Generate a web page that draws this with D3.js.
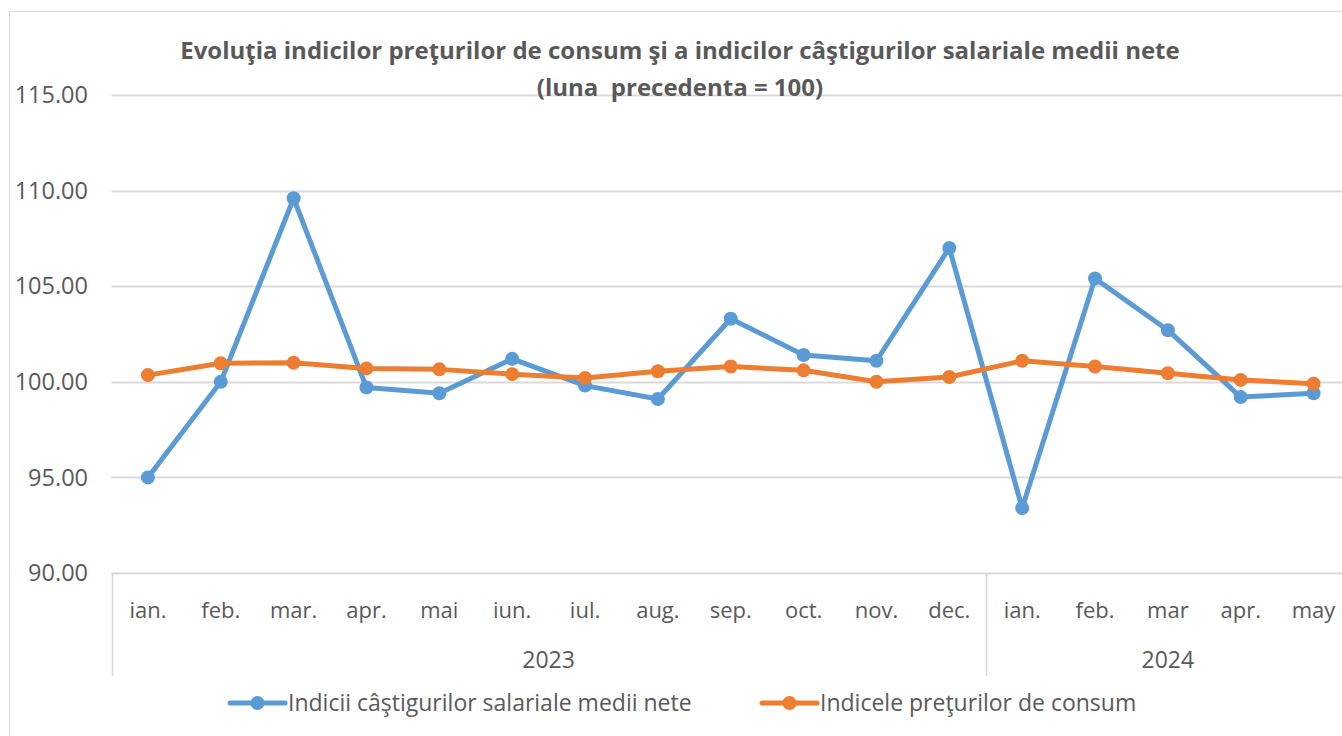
<!DOCTYPE html>
<html>
<head>
<meta charset="utf-8">
<script src="https://cdn.jsdelivr.net/npm/d3@7"></script>
<style>
  body { margin: 0; background: #fff; }
  svg text { font-family: "Open Sans", Lato, sans-serif; fill: #595959; }
</style>
</head>
<body>
<svg id="chart" width="1342" height="736"></svg>
<script>
// months and years along the x axis
var months = ['ian.', 'feb.', 'mar.', 'apr.', 'mai', 'iun.', 'iul.', 'aug.', 'sep.', 'oct.', 'nov.', 'dec.',
              'ian.', 'feb.', 'mar', 'apr.', 'may'];
var years = [{label: '2023', count: 12}, {label: '2024', count: 5}];

// series values (previous month = 100)
var salaries = [95.0, 100.0, 109.6, 99.7, 99.4, 101.2, 99.8, 99.1, 103.3, 101.4, 101.1, 107.0,
                93.4, 105.4, 102.7, 99.2, 99.4];
var prices = [100.35, 100.97, 101.0, 100.7, 100.65, 100.4, 100.2, 100.55, 100.8, 100.6, 100.0, 100.25,
              101.1, 100.8, 100.45, 100.1, 99.9];

var yTicks = [90, 95, 100, 105, 110, 115];

var seriesNames = ['Indicii câştigurilor salariale medii nete', 'Indicele preţurilor de consum'];
var colors = ['#5b9bd5', '#ed7d31'];

var svg = d3.select('#chart');

// chart frame
svg.append('rect')
    .attr('x', 9.5).attr('y', 11.5)
    .attr('width', 1400).attr('height', 800)
    .attr('fill', 'none')
    .attr('stroke', '#d9d9d9');

var padding = {l: 111.5, t: 95, r: 1350, b: 573};

var xScale = d3.scaleBand()
    .domain(d3.range(months.length))
    .range([padding.l, padding.r]);

var yScale = d3.scaleLinear()
    .domain([90, 115])
    .range([padding.b, padding.t]);

// gridlines
svg.append('g')
    .selectAll('line')
    .data(yTicks)
    .enter()
    .append('line')
    .attr('x1', padding.l)
    .attr('x2', padding.r)
    .attr('y1', function(d) { return Math.round(yScale(d)) + 0.5; })
    .attr('y2', function(d) { return Math.round(yScale(d)) + 0.5; })
    .attr('stroke', '#d9d9d9')
    .attr('stroke-width', 2);

// y labels
svg.append('g')
    .selectAll('text')
    .data(yTicks)
    .enter()
    .append('text')
    .attr('x', 88)
    .attr('y', function(d) { return yScale(d); })
    .attr('dy', '0.35em')
    .attr('text-anchor', 'end')
    .style('font-size', '23.5px')
    .text(function(d) { return d3.format('.2f')(d); });

// month labels
svg.append('g')
    .selectAll('text')
    .data(months)
    .enter()
    .append('text')
    .attr('x', function(d, i) { return xScale(i) + xScale.bandwidth() / 2; })
    .attr('y', 618)
    .attr('text-anchor', 'middle')
    .style('font-size', '22px')
    .text(function(d) { return d; });

// year labels and separators
var start = 0;
years.forEach(function(yr) {
    var x0 = xScale(start);
    var x1 = xScale(start) + xScale.bandwidth() * yr.count;
    svg.append('line')
        .attr('x1', Math.round(x0) + 0.5).attr('x2', Math.round(x0) + 0.5)
        .attr('y1', padding.b).attr('y2', 676)
        .attr('stroke', '#d9d9d9').attr('stroke-width', 1.5);
    svg.append('text')
        .attr('x', (x0 + x1) / 2)
        .attr('y', 668)
        .attr('text-anchor', 'middle')
        .style('font-size', '23px')
        .text(yr.label);
    start += yr.count;
});

// series lines
var allSeries = [salaries, prices];
var line = d3.line()
    .x(function(d, i) { return xScale(i) + xScale.bandwidth() / 2; })
    .y(function(d) { return yScale(d); });

allSeries.forEach(function(values, s) {
    var g = svg.append('g');
    g.append('path')
        .datum(values)
        .attr('d', line)
        .attr('fill', 'none')
        .attr('stroke', colors[s])
        .attr('stroke-width', 5)
        .attr('stroke-linejoin', 'round');
    g.selectAll('circle')
        .data(values)
        .enter()
        .append('circle')
        .attr('cx', function(d, i) { return xScale(i) + xScale.bandwidth() / 2; })
        .attr('cy', function(d) { return yScale(d); })
        .attr('r', 7)
        .attr('fill', colors[s]);
});

// title
var title = svg.append('text')
    .attr('text-anchor', 'middle')
    .style('font-size', '24px')
    .style('font-weight', 'bold');
title.append('tspan').attr('x', 680).attr('y', 59)
    .text('Evoluţia indicilor preţurilor de consum şi a indicilor câştigurilor salariale medii nete');
title.append('tspan').attr('x', 680).attr('y', 96)
    .text('(luna  precedenta = 100)')
    .style('white-space', 'pre');

// legend
var legendX = [230, 762];
seriesNames.forEach(function(name, s) {
    var g = svg.append('g').attr('transform', 'translate(' + [legendX[s], 703] + ')');
    g.append('line')
        .attr('x1', 0).attr('x2', 55)
        .attr('stroke', colors[s]).attr('stroke-width', 5)
        .attr('stroke-linecap', 'round');
    g.append('circle').attr('cx', 27.5).attr('r', 7).attr('fill', colors[s]);
    g.append('text')
        .attr('x', 58)
        .attr('dy', '0.35em')
        .style('font-size', '23px')
        .text(name);
});
</script>
</body>
</html>
